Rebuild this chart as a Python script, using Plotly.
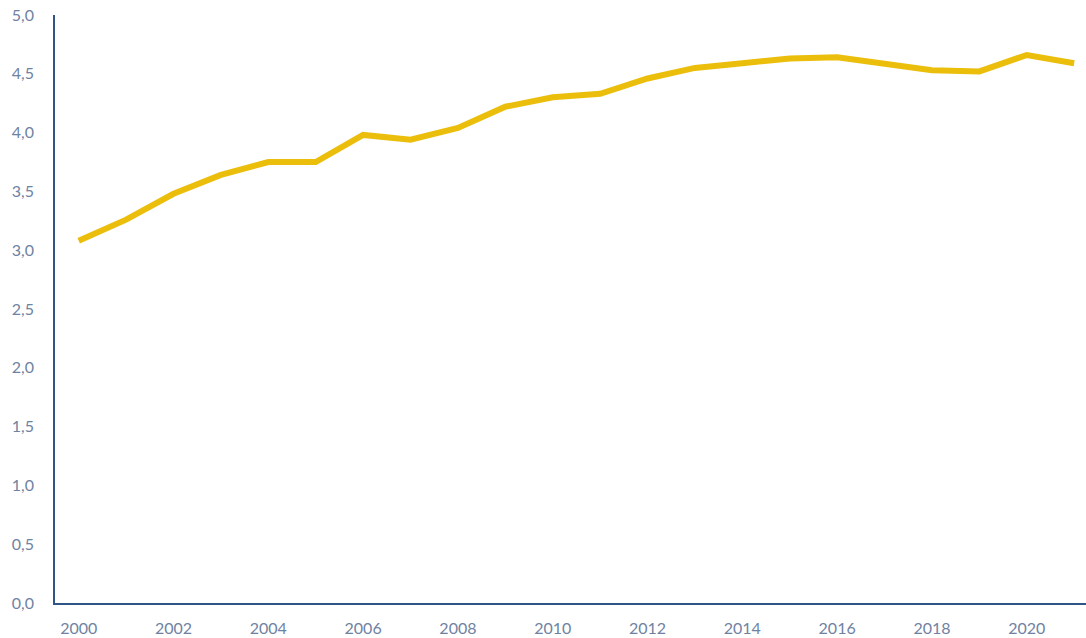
import plotly.graph_objects as go

years = list(range(2000, 2022))
values = [3.08, 3.26, 3.48, 3.64, 3.75, 3.75, 3.98, 3.94, 4.04, 4.22, 4.30, 4.33,
          4.46, 4.55, 4.59, 4.63, 4.64, 4.58, 4.53, 4.52, 4.66, 4.59]
x_ticks = list(range(2000, 2022, 2))
y_ticks = [0, 0.5, 1, 1.5, 2, 2.5, 3, 3.5, 4, 4.5, 5]

axis_color = "#2F5486"
label_color = "#6F82A2"

fig = go.Figure()
fig.add_trace(go.Scatter(x=years, y=values, mode="lines",
                         line=dict(color="#EBBE0C", width=6),
                         hoverinfo="x+y"))

fig.update_layout(
    width=1086, height=638,
    margin=dict(l=55, r=0, t=15, b=35),
    plot_bgcolor="white", paper_bgcolor="white",
    separators=",.",
    showlegend=False,
    font=dict(family="Lato, Open Sans, sans-serif", size=16, color=label_color),
)
fig.update_xaxes(range=[1999.5, 2021.25], tickvals=x_ticks, showgrid=False,
                 showline=True, linecolor=axis_color, linewidth=1.5,
                 ticks="", ticklabelstandoff=10, zeroline=False)
fig.update_yaxes(range=[0, 5], tickvals=y_ticks, tickformat=".1f", showgrid=False,
                 showline=True, linecolor=axis_color, linewidth=1.5,
                 ticks="", ticklabelstandoff=16, zeroline=False)

fig.write_html("out.html", config={"displayModeBar": False},
               post_script="document.body.style.margin='0';document.body.style.overflow='hidden';")
